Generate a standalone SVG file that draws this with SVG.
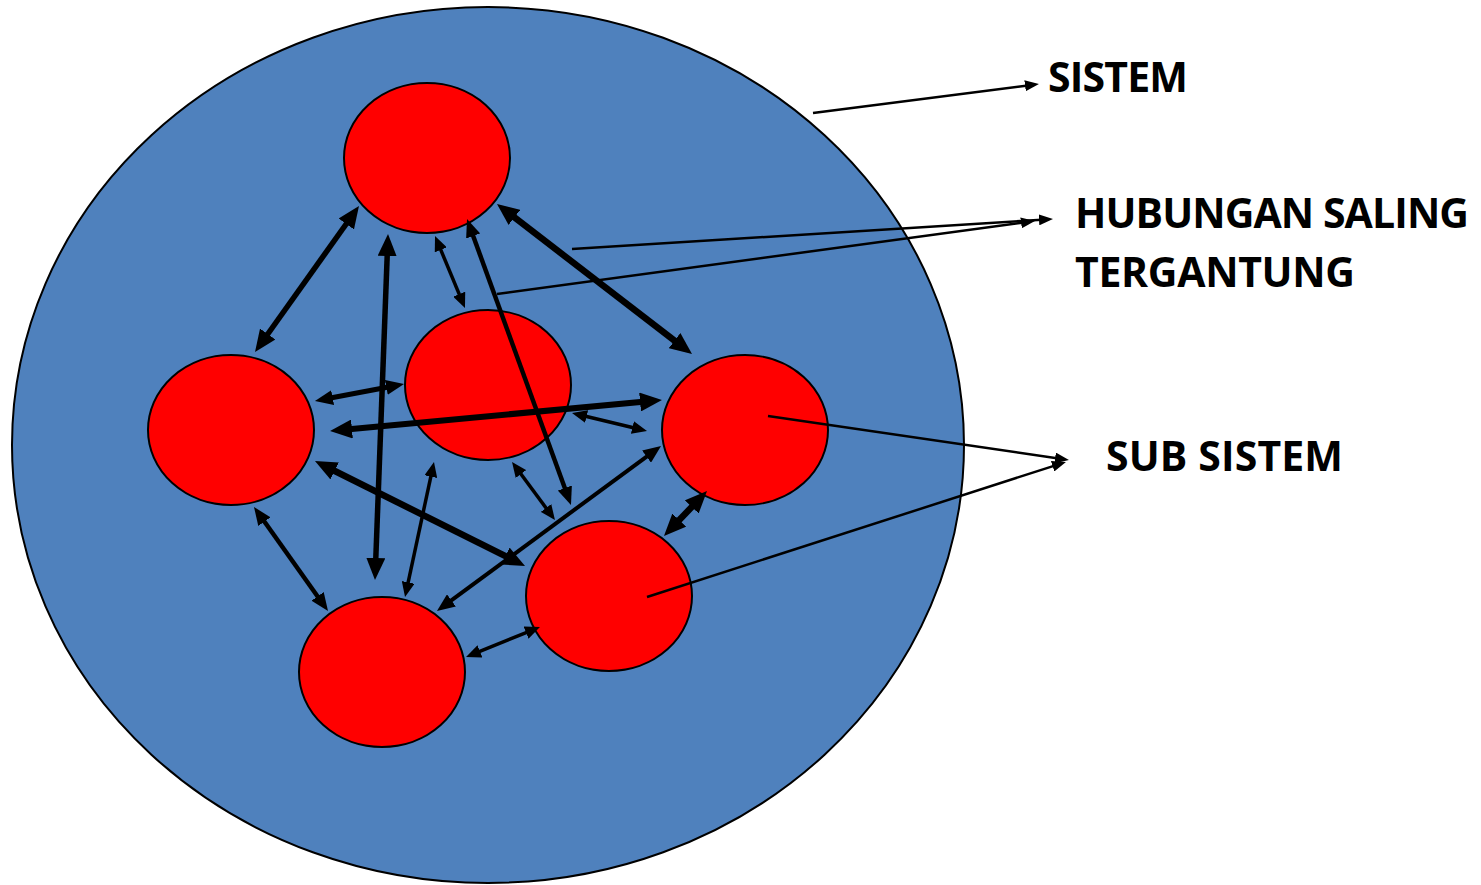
<svg xmlns="http://www.w3.org/2000/svg" width="1481" height="885" viewBox="0 0 1481 885">
<style>
.sys{fill:#4F81BD;stroke:#000;stroke-width:2}
.sub{fill:#FF0000;stroke:#000;stroke-width:2}
.c{stroke:#000;fill:none;stroke-linecap:butt}
.lbl{font-family:"Open Sans","Liberation Sans",sans-serif;font-weight:bold;font-size:41px;fill:#000}
</style>
<defs>
<marker id="hb" viewBox="0 0 10 10" refX="5" refY="5" markerWidth="22" markerHeight="19" markerUnits="userSpaceOnUse" orient="auto-start-reverse" preserveAspectRatio="none"><path d="M0,0 L10,5 L0,10 z" fill="#000"/></marker>
<marker id="hm" viewBox="0 0 10 10" refX="5" refY="5" markerWidth="18" markerHeight="15" markerUnits="userSpaceOnUse" orient="auto-start-reverse" preserveAspectRatio="none"><path d="M0,0 L10,5 L0,10 z" fill="#000"/></marker>
<marker id="hs" viewBox="0 0 10 10" refX="5" refY="5" markerWidth="15" markerHeight="13" markerUnits="userSpaceOnUse" orient="auto-start-reverse" preserveAspectRatio="none"><path d="M0,0 L10,5 L0,10 z" fill="#000"/></marker>
<marker id="hl" viewBox="0 0 10 10" refX="5" refY="5" markerWidth="14" markerHeight="11" markerUnits="userSpaceOnUse" orient="auto" preserveAspectRatio="none"><path d="M0,0 L10,5 L0,10 z" fill="#000"/></marker>
</defs>
<g id="sistem"><ellipse class="sys" cx="488" cy="445" rx="476" ry="438"/></g>
<g id="sub1"><ellipse class="sub" cx="427" cy="158" rx="83" ry="75"/></g>
<g id="sub2"><ellipse class="sub" cx="231" cy="430" rx="83" ry="75"/></g>
<g id="sub3"><ellipse class="sub" cx="488" cy="385" rx="83" ry="75"/></g>
<g id="sub4"><ellipse class="sub" cx="745" cy="430" rx="83" ry="75"/></g>
<g id="sub5"><ellipse class="sub" cx="609" cy="596" rx="83" ry="75"/></g>
<g id="sub6"><ellipse class="sub" cx="382" cy="672" rx="83" ry="75"/></g>
<g id="connectors">
<line class="c" x1="352.6" y1="215" x2="261.4" y2="343" stroke-width="5.5" marker-start="url(#hb)" marker-end="url(#hb)"/>
<line class="c" x1="387.6" y1="245" x2="375.4" y2="569" stroke-width="5.5" marker-start="url(#hb)" marker-end="url(#hb)"/>
<line class="c" x1="437.9" y1="242.9" x2="462.1" y2="301.1" stroke-width="3.5" marker-start="url(#hs)" marker-end="url(#hs)"/>
<line class="c" x1="470.1" y1="227.5" x2="567.9" y2="496.5" stroke-width="4.5" marker-start="url(#hm)" marker-end="url(#hm)"/>
<line class="c" x1="505.7" y1="210.7" x2="683.3" y2="347.3" stroke-width="6.5" marker-start="url(#hb)" marker-end="url(#hb)"/>
<line class="c" x1="323.8" y1="399.3" x2="395.2" y2="385.7" stroke-width="5" marker-start="url(#hm)" marker-end="url(#hm)"/>
<line class="c" x1="341" y1="430" x2="651" y2="401" stroke-width="6" marker-start="url(#hb)" marker-end="url(#hb)"/>
<line class="c" x1="579.3" y1="414.75" x2="639.7" y2="429.25" stroke-width="3.5" marker-start="url(#hs)" marker-end="url(#hs)"/>
<line class="c" x1="324.8" y1="466" x2="515.2" y2="561" stroke-width="6.5" marker-start="url(#hb)" marker-end="url(#hb)"/>
<line class="c" x1="444.2" y1="605.7" x2="653.8" y2="451.3" stroke-width="4" marker-start="url(#hm)" marker-end="url(#hm)"/>
<line class="c" x1="259.2" y1="514.3" x2="322.8" y2="603.7" stroke-width="4.5" marker-start="url(#hm)" marker-end="url(#hm)"/>
<line class="c" x1="406.6" y1="589.7" x2="432.4" y2="469.3" stroke-width="3.5" marker-start="url(#hs)" marker-end="url(#hs)"/>
<line class="c" x1="516.5" y1="468" x2="550.5" y2="514" stroke-width="3.5" marker-start="url(#hs)" marker-end="url(#hs)"/>
<line class="c" x1="699.4" y1="499" x2="671.6" y2="528" stroke-width="6.5" marker-start="url(#hb)" marker-end="url(#hb)"/>
<line class="c" x1="473" y1="654.2" x2="533" y2="629.8" stroke-width="3.5" marker-start="url(#hs)" marker-end="url(#hs)"/>
<line class="c" x1="813" y1="113" x2="1032" y2="84.9" stroke-width="2.5" marker-end="url(#hl)"/>
<line class="c" x1="572" y1="249" x2="1046" y2="219.4" stroke-width="2.5" marker-end="url(#hl)"/>
<line class="c" x1="497" y1="294" x2="1028" y2="221.9" stroke-width="2.5" marker-end="url(#hl)"/>
<line class="c" x1="768" y1="416" x2="1062" y2="459" stroke-width="2.5" marker-end="url(#hl)"/>
<line class="c" x1="647" y1="597" x2="1059.3" y2="464.1" stroke-width="2.5" marker-end="url(#hl)"/>
</g>
<g id="labels">
<text class="lbl" x="1048" y="92" textLength="140">SISTEM</text>
<text class="lbl" x="1075" y="228" textLength="394">HUBUNGAN SALING</text>
<text class="lbl" x="1075" y="287" textLength="280">TERGANTUNG</text>
<text class="lbl" x="1106" y="471" textLength="237">SUB SISTEM</text>
</g>
</svg>
